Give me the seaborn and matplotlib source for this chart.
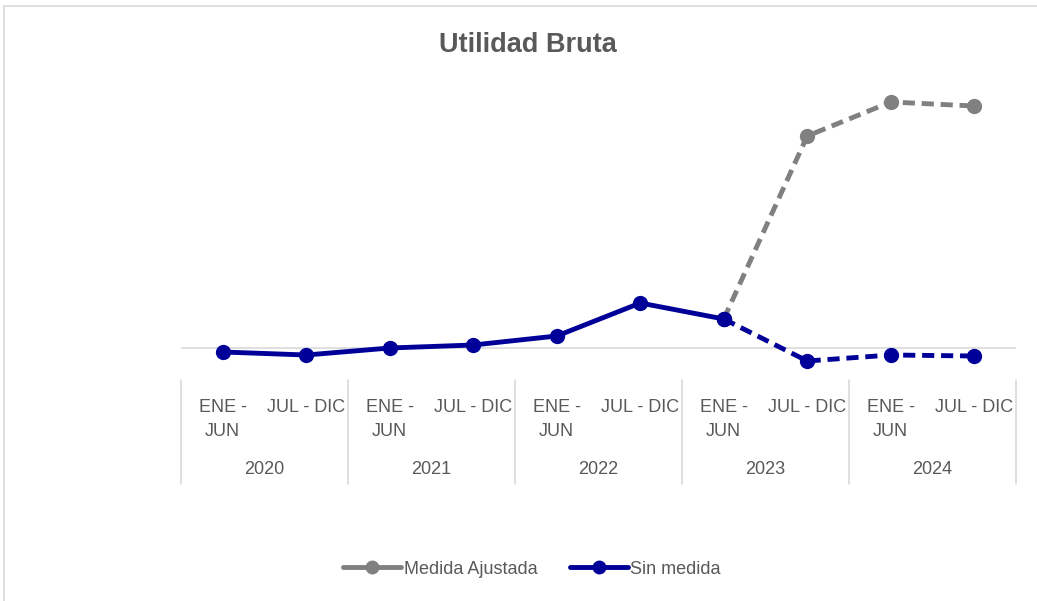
import matplotlib
matplotlib.use("Agg")
import matplotlib.pyplot as plt
import matplotlib.patches as mpatches
import matplotlib.transforms as mtransforms
import pandas as pd
import seaborn as sns

years = ["2020", "2021", "2022", "2023", "2024"]
halves = ["ENE -\nJUN", "JUL - DIC"]
sin_medida = [-4, -7, 0, 3, 12, 45, 29, -13, -7, -8]
medida_ajustada = [None, None, None, None, None, None, 29, 212, 246, 242]

BLUE = "#000099"
GRAY = "#808080"
TEXT = "#595959"
GRID = "#d9d9d9"

sns.set_theme(style="white")
plt.rcParams["font.family"] = ["Liberation Sans Narrow", "Liberation Sans", "DejaVu Sans"]

W, H = 1037, 601
fig = plt.figure(figsize=(W / 100, H / 100), dpi=100)
fig.patch.set_facecolor("white")

# outer chart frame
fig.add_artist(mpatches.Rectangle((4 / W, -0.1), 1.2, 1.1 - 6 / H, transform=fig.transFigure,
                                  fill=False, edgecolor=GRID, linewidth=1.2))

left, right, top, bottom = 181, 1016, 70, 375
ax = fig.add_axes([left / W, 1 - bottom / H, (right - left) / W, (bottom - top) / H])

n = len(sin_medida)
df = pd.DataFrame({"idx": range(n), "sin": sin_medida, "adj": medida_ajustada})
solid = df[df["idx"] <= 6]
dashed = df[df["idx"] >= 6]

LW, MS = 3.5, 11
DASH = (0, (2.5, 1.4))
sns.lineplot(data=dashed, x="idx", y="adj", ax=ax, color=GRAY, linewidth=LW, linestyle=DASH,
             marker="o", markersize=MS, markeredgewidth=0)
sns.lineplot(data=solid, x="idx", y="sin", ax=ax, color=BLUE, linewidth=LW,
             marker="o", markersize=MS, markeredgewidth=0)
sns.lineplot(data=dashed, x="idx", y="sin", ax=ax, color=BLUE, linewidth=LW, linestyle=DASH,
             marker="o", markersize=MS, markeredgewidth=0)

ax.axhline(0, color=GRID, linewidth=1.2, zorder=0)
ax.set_xlim(-0.5, n - 0.5)
ax.set_ylim(348 - bottom, 348 - top)
ax.set_xticks([])
ax.set_yticks([])
ax.set_xlabel("")
ax.set_ylabel("")
for s in ax.spines.values():
    s.set_visible(False)

# multi-level category axis
trans = mtransforms.blended_transform_factory(ax.transData, fig.transFigure)
fy = lambda px: 1 - px / H
for b in range(len(years) + 1):
    xb = b * 2 - 0.5
    ax.plot([xb, xb], [fy(380), fy(484)], transform=trans, color=GRID, linewidth=1.2, clip_on=False)
for i in range(n):
    ax.text(i, fy(399), halves[i % 2], transform=trans, ha="center", va="top",
            fontsize=13, color=TEXT, linespacing=1.5)
for j, yr in enumerate(years):
    ax.text(j * 2 + 0.5, fy(470), yr, transform=trans, ha="center", va="center",
            fontsize=13, color=TEXT)

fig.text(528 / W, fy(45), "Utilidad Bruta", ha="center", va="center", fontsize=19.5,
         fontweight="bold", color=TEXT)

# legend
handles = [
    plt.Line2D([], [], color=GRAY, linewidth=3.5, marker="o", markersize=10, markeredgewidth=0),
    plt.Line2D([], [], color=BLUE, linewidth=3.5, marker="o", markersize=10, markeredgewidth=0),
]
fig.legend(handles, ["Medida Ajustada", "Sin medida"], loc="center", bbox_to_anchor=(532 / W, fy(569)),
           ncol=2, frameon=False, fontsize=13, labelcolor=TEXT, handlelength=3.2,
           handletextpad=0.15, columnspacing=1.8)

fig.savefig("out.png", dpi=100, facecolor="white")
